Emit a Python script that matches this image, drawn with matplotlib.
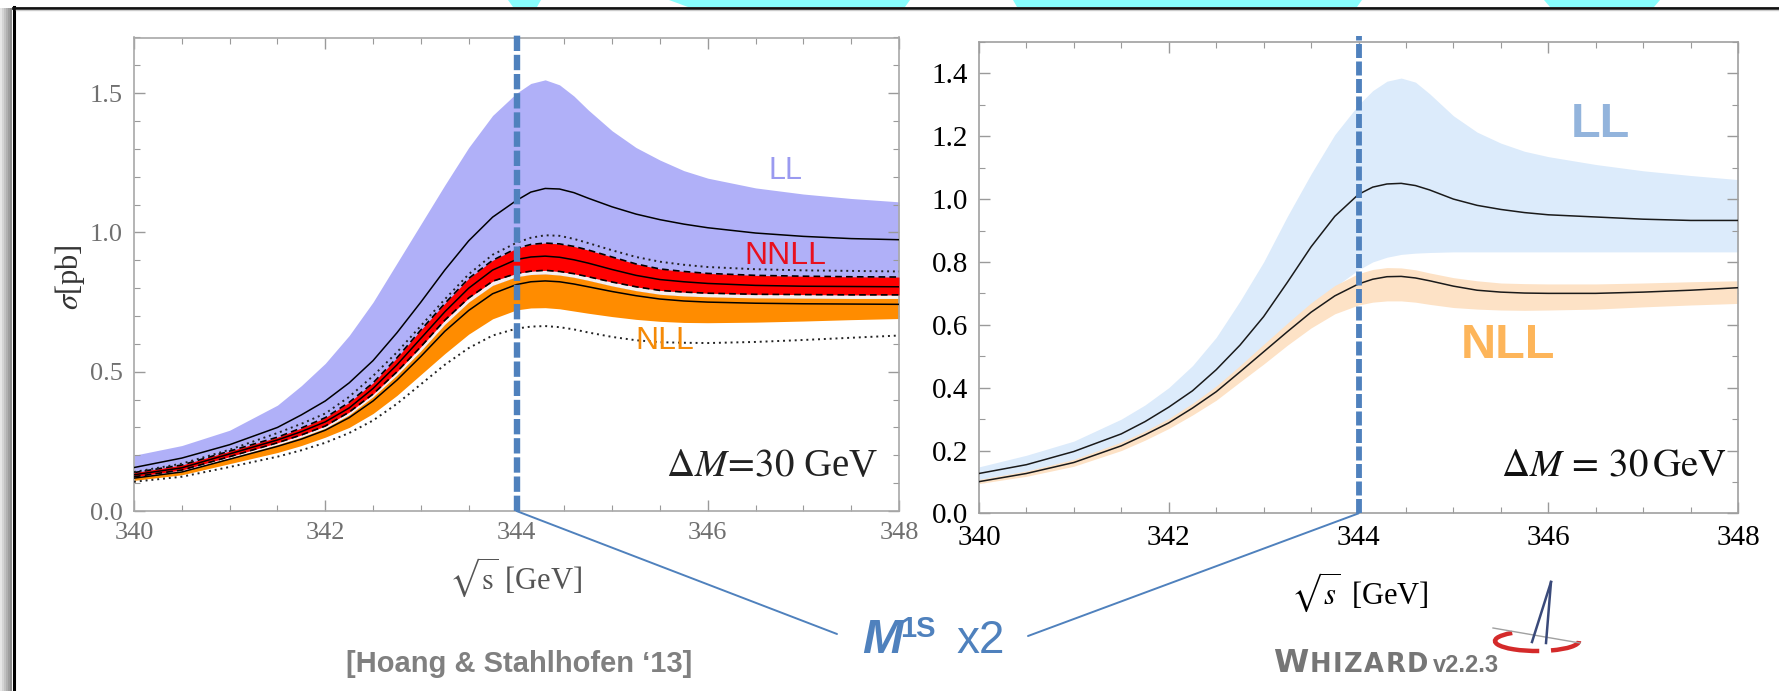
import matplotlib
matplotlib.use("Agg")
import matplotlib.pyplot as plt
from matplotlib.patches import Arc, ConnectionPatch, Polygon, Rectangle
from matplotlib.lines import Line2D
from matplotlib.ticker import MultipleLocator

W, H = 1779, 691

# sqrt(s) grid [GeV], shared by both panels
energy = [340, 340.5, 341, 341.5, 341.75, 342, 342.25, 342.5, 342.75, 343, 343.25, 343.5,
          343.75, 344, 344.15, 344.3, 344.45, 344.6, 344.75, 345, 345.25, 345.5, 345.75,
          346, 346.5, 347, 347.5, 348]

# left panel: Hoang & Stahlhofen '13, sigma [pb]
ll_hi = [0.20, 0.235, 0.29, 0.38, 0.45, 0.53, 0.63, 0.75, 0.89, 1.03, 1.17, 1.305,
         1.42, 1.50, 1.535, 1.548, 1.53, 1.49, 1.44, 1.365, 1.305, 1.26, 1.222,
         1.195, 1.16, 1.138, 1.122, 1.11]
ll_mid = [0.156, 0.19, 0.238, 0.30, 0.345, 0.395, 0.46, 0.54, 0.64, 0.75, 0.865, 0.97,
          1.055, 1.115, 1.145, 1.158, 1.156, 1.143, 1.123, 1.092, 1.066, 1.046, 1.03,
          1.017, 0.998, 0.986, 0.978, 0.974]
dot_hi = [0.14, 0.17, 0.22, 0.28, 0.313, 0.35, 0.41, 0.485, 0.57, 0.665, 0.76, 0.85,
          0.92, 0.963, 0.981, 0.99, 0.988, 0.977, 0.962, 0.936, 0.912, 0.895, 0.884,
          0.876, 0.868, 0.864, 0.862, 0.86]
nnll_hi = [0.138, 0.165, 0.215, 0.265, 0.298, 0.335, 0.39, 0.46, 0.55, 0.65, 0.745, 0.835,
           0.90, 0.943, 0.957, 0.962, 0.959, 0.95, 0.937, 0.912, 0.887, 0.869, 0.86,
           0.853, 0.846, 0.843, 0.841, 0.84]
nnll_mid = [0.13, 0.155, 0.205, 0.255, 0.285, 0.32, 0.37, 0.44, 0.525, 0.62, 0.715, 0.80,
            0.865, 0.903, 0.912, 0.915, 0.911, 0.902, 0.89, 0.867, 0.846, 0.831, 0.823,
            0.817, 0.81, 0.807, 0.806, 0.805]
nnll_lo = [0.123, 0.147, 0.195, 0.245, 0.273, 0.305, 0.355, 0.42, 0.50, 0.59, 0.685, 0.765,
           0.825, 0.853, 0.861, 0.864, 0.86, 0.852, 0.841, 0.822, 0.805, 0.792, 0.786,
           0.782, 0.778, 0.777, 0.776, 0.776]
nll_hi = [0.12, 0.143, 0.19, 0.238, 0.265, 0.297, 0.345, 0.41, 0.488, 0.575, 0.67, 0.75,
          0.81, 0.841, 0.849, 0.851, 0.847, 0.839, 0.828, 0.808, 0.791, 0.778, 0.772,
          0.769, 0.765, 0.764, 0.763, 0.763]
nll_mid = [0.118, 0.14, 0.186, 0.232, 0.258, 0.29, 0.335, 0.395, 0.47, 0.555, 0.645, 0.72,
           0.78, 0.813, 0.823, 0.826, 0.823, 0.815, 0.805, 0.788, 0.773, 0.761, 0.754,
           0.75, 0.746, 0.744, 0.743, 0.742]
nll_lo = [0.11, 0.13, 0.17, 0.21, 0.235, 0.265, 0.30, 0.35, 0.415, 0.49, 0.565, 0.635,
          0.69, 0.722, 0.729, 0.73, 0.726, 0.718, 0.71, 0.698, 0.688, 0.681, 0.677,
          0.676, 0.678, 0.682, 0.687, 0.691]
dot_lo = [0.105, 0.123, 0.158, 0.195, 0.218, 0.245, 0.28, 0.325, 0.385, 0.455, 0.525, 0.585,
          0.63, 0.655, 0.662, 0.664, 0.66, 0.652, 0.641, 0.625, 0.613, 0.606, 0.604,
          0.603, 0.607, 0.614, 0.622, 0.63]

# right panel: WHIZARD v2.2.3
wl_hi = [0.148, 0.185, 0.23, 0.30, 0.345, 0.40, 0.47, 0.56, 0.675, 0.80, 0.945, 1.08,
         1.205, 1.30, 1.345, 1.375, 1.385, 1.372, 1.335, 1.265, 1.213, 1.178, 1.152,
         1.135, 1.11, 1.09, 1.075, 1.062]
wl_mid = [0.127, 0.155, 0.197, 0.253, 0.292, 0.338, 0.39, 0.457, 0.535, 0.626, 0.735, 0.848,
          0.945, 1.015, 1.038, 1.048, 1.05, 1.043, 1.029, 1.0, 0.98, 0.967, 0.957,
          0.95, 0.943, 0.936, 0.932, 0.932]
wl_lo = [0.105, 0.132, 0.168, 0.222, 0.257, 0.296, 0.345, 0.398, 0.46, 0.525, 0.59, 0.655,
         0.72, 0.775, 0.80, 0.815, 0.824, 0.828, 0.83, 0.832, 0.832, 0.832, 0.832,
         0.832, 0.832, 0.832, 0.832, 0.832]
wn_hi = [0.108, 0.135, 0.172, 0.227, 0.262, 0.302, 0.35, 0.405, 0.47, 0.538, 0.605, 0.67,
         0.725, 0.763, 0.776, 0.782, 0.781, 0.775, 0.765, 0.75, 0.74, 0.733, 0.731,
         0.73, 0.73, 0.733, 0.737, 0.74]
wn_mid = [0.101, 0.127, 0.162, 0.215, 0.25, 0.288, 0.335, 0.387, 0.45, 0.514, 0.578, 0.64,
          0.692, 0.73, 0.745, 0.753, 0.754, 0.749, 0.74, 0.723, 0.71, 0.704, 0.701,
          0.70, 0.70, 0.704, 0.71, 0.718]
wn_lo = [0.095, 0.118, 0.15, 0.20, 0.233, 0.27, 0.313, 0.36, 0.418, 0.475, 0.535, 0.59,
         0.635, 0.663, 0.672, 0.676, 0.676, 0.672, 0.665, 0.655, 0.65, 0.647, 0.646,
         0.647, 0.65, 0.657, 0.663, 0.668]

x_ticks = [340, 342, 344, 346, 348]
m1s = 344.0

BLUE = "#4f81bd"

plt.rcParams["font.family"] = ["Liberation Serif", "DejaVu Serif"]
fig = plt.figure(figsize=(W / 100, H / 100), dpi=100)
fig.patch.set_facecolor("white")


def fp(px, py):
    return px / W, 1 - py / H


def fig_line(p0, p1, **kw):
    (x0, y0), (x1, y1) = fp(*p0), fp(*p1)
    fig.add_artist(Line2D([x0, x1], [y0, y1], transform=fig.transFigure, **kw))


# slide decoration: cyan shapes above the frame, frame and shadow
for pts in [[(508, 0), (541, 0), (537, 7), (513, 7)],
            [(669, 0), (910, 0), (905, 7), (688, 7)],
            [(1013, 0), (1362, 0), (1357, 7), (1017, 7)],
            [(1544, 0), (1660, 0), (1654, 7), (1550, 7)]]:
    fig.add_artist(Polygon([fp(*p) for p in pts], closed=True, transform=fig.transFigure,
                           facecolor="#88ffff", edgecolor="none", zorder=0))
for i, g in enumerate(["#e6e6e6", "#d4d4d4", "#c2c2c2", "#b0b0b0", "#9e9e9e", "#8c8c8c"]):
    fig.add_artist(Rectangle(fp(2 * i, H), 2 / W, (H - 8) / H, transform=fig.transFigure,
                             facecolor=g, edgecolor="none", zorder=0))
fig_line((14.5, 7), (14.5, H), color="black", lw=2.2, zorder=1)
fig_line((13, 7.5), (W, 7.5), color="#111111", lw=2.0, zorder=1)
fig_line((16, 10), (W, 10), color="#cccccc", lw=1.0, zorder=1)

# ---------------- left panel ----------------
ax1 = fig.add_axes([134 / W, 1 - 511 / H, (899 - 134) / W, (511 - 37.5) / H])
ax1.fill_between(energy, nll_hi, ll_hi, color="#b0b0f8", lw=0, zorder=1)
ax1.fill_between(energy, nll_hi, nnll_lo, color="#f4eef0", lw=0, zorder=1.5)
ax1.fill_between(energy, nll_lo, nll_hi, color="#ff8c00", lw=0, zorder=2)
ax1.fill_between(energy, nnll_lo, nnll_hi, color="#ff0000", lw=0, zorder=3)
for ys in (ll_mid, nnll_mid, nll_mid):
    ax1.plot(energy, ys, color="black", lw=1.1, zorder=4)
for ys in (nnll_hi, nnll_lo):
    ax1.plot(energy, ys, color="black", lw=1.2, dashes=(4, 2.5), zorder=4)
for ys in (dot_hi, dot_lo):
    ax1.plot(energy, ys, color="#222222", lw=1.4, dashes=(1, 2), zorder=4)
ax1.set_xlim(340, 348)
ax1.set_ylim(0, 1.7)
ax1.set_xticks(x_ticks)
ax1.set_yticks([0.0, 0.5, 1.0, 1.5])
ax1.yaxis.set_major_formatter(plt.FormatStrFormatter("%.1f"))
ax1.xaxis.set_minor_locator(MultipleLocator(0.5))
ax1.yaxis.set_minor_locator(MultipleLocator(0.1))
ax1.tick_params(which="both", direction="in", top=True, right=True, color="#9a9a9a",
                labelsize=19, labelcolor="#707070")
ax1.tick_params(which="major", length=8, width=1.0, pad=8)
ax1.tick_params(which="minor", length=4, width=0.8)
for s in ax1.spines.values():
    s.set_color("#a8a8a8")
    s.set_linewidth(1.2)
ax1.text(346.81, 1.222, "LL", family="Liberation Sans", fontsize=22, color="#9a9af0",
         ha="center", va="center", zorder=5)
ax1.text(346.81, 0.915, "NNLL", family="Liberation Sans", fontsize=23, color="#e8101e",
         ha="center", va="center", zorder=5)
ax1.text(345.55, 0.611, "NLL", family="Liberation Sans", fontsize=23, color="#f58a07",
         ha="center", va="center", zorder=5)
ax1.text(346.67, 0.159, r"$\Delta M\!=\!30$ GeV", fontsize=28, color="#222222",
         math_fontfamily="stix", ha="center", va="center", zorder=5)
ax1.plot([m1s, m1s], [0, 1.72], color=BLUE, lw=4.6, dashes=(2.4, 0.6), zorder=6,
         clip_on=False)

# ---------------- right panel ----------------
ax2 = fig.add_axes([979 / W, 1 - 513.4 / H, (1738 - 979) / W, (513.4 - 41.9) / H])
ax2.fill_between(energy, wl_lo, wl_hi, color="#dcebfb", lw=0, zorder=1)
ax2.fill_between(energy, wn_lo, wn_hi, color="#fde2c6", lw=0, zorder=2)
ax2.plot(energy, wl_mid, color="#1a1a1a", lw=1.1, zorder=4)
ax2.plot(energy, wn_mid, color="#1a1a1a", lw=1.1, zorder=4)
ax2.set_xlim(340, 348)
ax2.set_ylim(0, 1.5)
ax2.set_xticks(x_ticks)
ax2.set_yticks([0.0, 0.2, 0.4, 0.6, 0.8, 1.0, 1.2, 1.4])
ax2.yaxis.set_major_formatter(plt.FormatStrFormatter("%.1f"))
ax2.xaxis.set_minor_locator(MultipleLocator(0.5))
ax2.yaxis.set_minor_locator(MultipleLocator(0.1))
ax2.tick_params(which="both", direction="in", top=True, right=True, color="#9a9a9a",
                labelsize=21, labelcolor="black")
ax2.tick_params(which="major", length=8, width=1.0, pad=8)
ax2.tick_params(which="minor", length=4, width=0.8)
for s in ax2.spines.values():
    s.set_color("#a0a0a0")
    s.set_linewidth(1.2)
ax2.text(346.55, 1.238, "LL", family="Liberation Sans", fontsize=35, weight="bold",
         color="#93b4dc", ha="center", va="center", zorder=5)
ax2.text(345.57, 0.535, "NLL", family="Liberation Sans", fontsize=35, weight="bold",
         color="#fdb55a", ha="center", va="center", zorder=5)
ax2.text(346.69, 0.152, r"$\Delta M\,=\,30\,\mathrm{GeV}$", fontsize=28, color="#111111",
         math_fontfamily="stix", ha="center", va="center", zorder=5)
ax2.plot([m1s, m1s], [0, 1.52], color=BLUE, lw=4.2, dashes=(2.4, 0.6), zorder=6,
         clip_on=False)

# axis labels
fig.text(*fp(516, 577), r"$\sqrt{\mathrm{s}}$ [GeV]", fontsize=22, color="#555555",
         math_fontfamily="stix", ha="center", va="center")
fig.text(*fp(70, 277), r"$\sigma$[pb]", fontsize=22, color="#333333", rotation=90,
         math_fontfamily="stix", ha="center", va="center")
fig.text(*fp(1360, 592), r"$\sqrt{s}\;\;$[GeV]", fontsize=22, color="black",
         math_fontfamily="stix", ha="center", va="center")

# M1S x2 callout
fig.add_artist(ConnectionPatch(xyA=(m1s, 0), coordsA=ax1.transData,
                               xyB=(837, H - 634), coordsB="figure pixels",
                               color=BLUE, lw=1.4))
fig.add_artist(ConnectionPatch(xyA=(1028, H - 636), coordsA="figure pixels",
                               xyB=(m1s, 0), coordsB=ax2.transData,
                               color=BLUE, lw=1.4))
fig.text(*fp(862, 653), "M", family="Liberation Sans", style="italic", weight="bold",
         fontsize=35, color=BLUE, va="baseline")
fig.text(*fp(900, 637), "1S", family="Liberation Sans", weight="bold",
         fontsize=21, color=BLUE, va="baseline")
fig.text(*fp(956, 653), "x2", family="Liberation Sans", fontsize=33, color=BLUE,
         va="baseline")

fig.text(*fp(519, 672), "[Hoang & Stahlhofen \u201813]", family="Liberation Sans",
         weight="bold", fontsize=21, color="#808080", ha="center", va="baseline")

# WHIZARD v2.2.3 in wide small caps
renderer = fig.canvas.get_renderer()
x0 = 1273
for ch, size in [("W", 23), ("H", 18.5), ("I", 18.5), ("Z", 18.5), ("A", 18.5),
                 ("R", 18.5), ("D", 18.5)]:
    t = fig.text(*fp(x0, 672), ch, family="DejaVu Sans", weight="bold", fontsize=size,
                 color="#767676", va="baseline")
    x0 += t.get_window_extent(renderer).width + 1.5
fig.text(*fp(x0 + 3, 672), "v2.2.3", family="Liberation Sans", weight="bold",
         fontsize=17, color="#767676", va="baseline")

# WHIZARD logo (hat with ring)
fig_line((1493, 628), (1580, 643), color="#a0a0a0", lw=1.0)
for a, b in [(140, 275), (300, 360)]:
    fig.add_artist(Arc(fp(1537, 641), 84 / W, 20 / H, theta1=a, theta2=b,
                       transform=fig.transFigure, color="#d42a2a", lw=3.2))
fig_line((1532, 642), (1551, 582), color="#3a4a7a", lw=1.8)
fig_line((1546, 643), (1551, 582), color="#3a4a7a", lw=1.8)

fig.savefig("out.png", dpi=100, facecolor="white")
